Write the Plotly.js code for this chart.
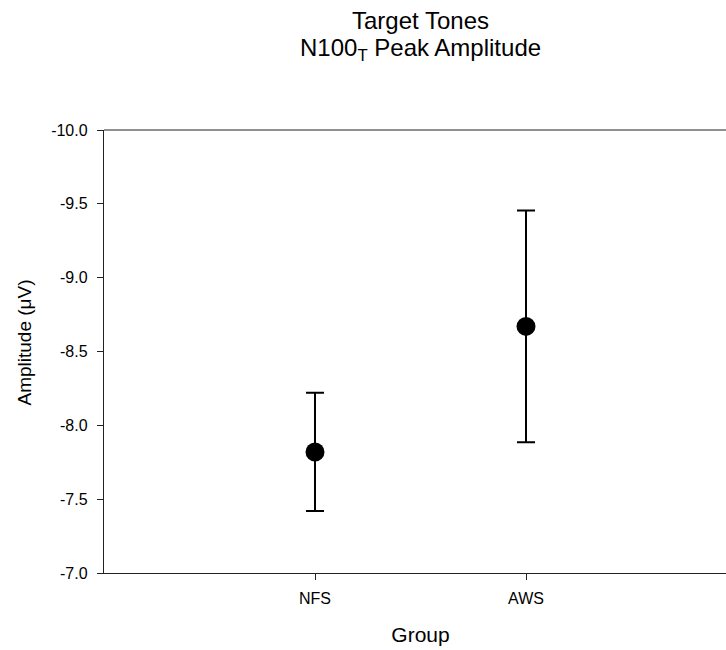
<!DOCTYPE html>
<html>
<head>
<meta charset="utf-8">
<script src="https://cdn.plot.ly/plotly-3.0.1.min.js"></script>
<style>
  html, body { margin: 0; padding: 0; background: #fff; overflow: hidden; }
  #wrap { width: 726px; height: 650px; overflow: hidden; }
  #chart { width: 737px; height: 650px; }
</style>
</head>
<body>
<div id="wrap"><div id="chart"></div></div>
<script>
// Group means and standard errors for N100 target-tone peak amplitude
const groups = ["NFS", "AWS"];
const groupPos = [1, 2];
const meanAmp = [-7.82, -8.67];
const errAmp = [0.40, 0.785];

// Y axis ticks (negative up)
const yTickVals = [-10.0, -9.5, -9.0, -8.5, -8.0, -7.5, -7.0];
const yTickText = ["-10.0", "-9.5", "-9.0", "-8.5", "-8.0", "-7.5", "-7.0"];

const titleLines = ["Target Tones", "N100<sub>T</sub> Peak Amplitude"];
const yTitle = "Amplitude (\u03bcV)";

const FONT = "Liberation Sans, Arial, sans-serif";

const trace = {
  type: "scatter",
  mode: "markers",
  x: groupPos,
  y: meanAmp,
  marker: { symbol: "circle", size: 19, color: "#000" },
  error_y: {
    type: "data",
    array: errAmp,
    visible: true,
    color: "#000",
    thickness: 2,
    width: 9
  },
  hoverinfo: "skip"
};

// Two-line heading, each line placed on its own
const annotations = titleLines.map((t, i) => ({
  text: t,
  xref: "paper",
  yref: "paper",
  x: 0.5,
  y: i === 0 ? 1.2483 : 1.1814,
  xanchor: "center",
  yanchor: "middle",
  showarrow: false,
  font: { family: FONT, size: 24, color: "#000" }
}));

// Vertical axis caption
annotations.push({
  text: yTitle,
  xref: "paper",
  yref: "paper",
  x: -0.1248,
  y: 0.5203,
  xanchor: "center",
  yanchor: "middle",
  textangle: -90,
  showarrow: false,
  font: { family: FONT, size: 19, color: "#000" }
});

const layout = {
  width: 737,
  height: 650,
  margin: { l: 104, r: 0, t: 130, b: 77 },
  paper_bgcolor: "#fff",
  plot_bgcolor: "#fff",
  showlegend: false,
  font: { family: FONT, color: "#000" },
  annotations: annotations,
  // top frame line of the plot area
  shapes: [{
    type: "line", xref: "paper", yref: "paper",
    x0: 0, x1: 1, y0: 1, y1: 1,
    line: { color: "#222", width: 1.2 }
  }],
  xaxis: {
    range: [0, 3],
    tickvals: groupPos,
    ticktext: groups,
    ticks: "outside",
    ticklen: 6,
    tickwidth: 1,
    tickcolor: "#222",
    showline: true,
    linecolor: "#222",
    linewidth: 1.2,
    mirror: false,
    showgrid: false,
    zeroline: false,
    tickfont: { family: FONT, size: 16, color: "#000" },
    ticklabelstandoff: 5,
    title: { text: "Group", font: { family: FONT, size: 21, color: "#000" }, standoff: 20 }
  },
  yaxis: {
    range: [-7, -10],
    tickvals: yTickVals,
    ticktext: yTickText,
    ticks: "outside",
    ticklen: 6,
    tickwidth: 1,
    tickcolor: "#222",
    showline: true,
    linecolor: "#222",
    linewidth: 1.2,
    mirror: false,
    showgrid: false,
    zeroline: false,
    tickfont: { family: FONT, size: 16, color: "#000" },
    ticklabelstandoff: 6
  }
};

Plotly.newPlot("chart", [trace], layout, { displayModeBar: false, staticPlot: true });
</script>
</body>
</html>
